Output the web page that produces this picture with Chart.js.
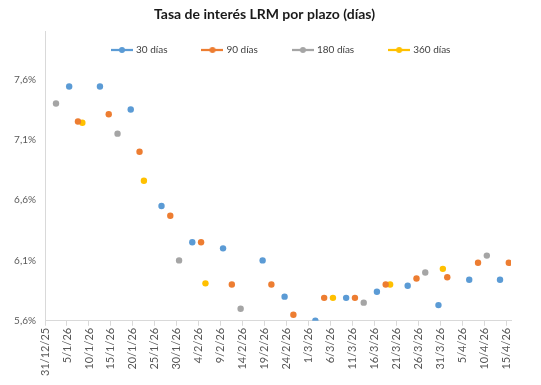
<!DOCTYPE html>
<html>
<head>
<meta charset="utf-8">
<script src="https://cdn.jsdelivr.net/npm/chart.js@4.4.1/dist/chart.umd.min.js"></script>
<style>
  html, body { margin: 0; padding: 0; background: #fff; }
  #wrap { width: 541px; height: 385px; }
</style>
</head>
<body>
<div id="wrap"><canvas id="myChart" width="541" height="385"></canvas></div>
<script>
// fechas de cada subasta y tasa (%)
const fechas30 = ['5/1/26','12/1/26','19/1/26','26/1/26','2/2/26','9/2/26','18/2/26','23/2/26','2/3/26','9/3/26','16/3/26','23/3/26','30/3/26','6/4/26','13/4/26'];
const tasa30 = [7.54, 7.54, 7.35, 6.55, 6.25, 6.20, 6.10, 5.80, 5.60, 5.79, 5.84, 5.89, 5.73, 5.94, 5.94];

const fechas90 = ['7/1/26','14/1/26','21/1/26','28/1/26','4/2/26','11/2/26','20/2/26','25/2/26','4/3/26','11/3/26','18/3/26','25/3/26','1/4/26','8/4/26','15/4/26'];
const tasa90 = [7.25, 7.31, 7.00, 6.47, 6.25, 5.90, 5.90, 5.65, 5.79, 5.79, 5.90, 5.95, 5.96, 6.08, 6.08];

const fechas180 = ['2/1/26','16/1/26','30/1/26','13/2/26','13/3/26','27/3/26','10/4/26'];
const tasa180 = [7.40, 7.15, 6.10, 5.70, 5.75, 6.00, 6.14];

const fechas360 = ['8/1/26','22/1/26','5/2/26','6/3/26','19/3/26','31/3/26'];
const tasa360 = [7.24, 6.76, 5.91, 5.79, 5.90, 6.03];

const xTickLabels = ['31/12/25','5/1/26','10/1/26','15/1/26','20/1/26','25/1/26','30/1/26','4/2/26','9/2/26','14/2/26','19/2/26','24/2/26','1/3/26','6/3/26','11/3/26','16/3/26','21/3/26','26/3/26','31/3/26','5/4/26','10/4/26','15/4/26'];
const yTicks = [5.6, 6.1, 6.6, 7.1, 7.6];

const series = ['30 días', '90 días', '180 días', '360 días'];
const colores = ['#5B9BD5', '#ED7D31', '#A5A5A5', '#FFC000'];

// dias desde 31/12/25
function dia(txt) {
  const p = txt.split('/');
  const d = Date.UTC(2000 + parseInt(p[2]), parseInt(p[1]) - 1, parseInt(p[0]));
  return Math.round((d - Date.UTC(2025, 11, 31)) / 86400000);
}

// eje de fechas tipo Excel: el punto queda en medio del dia
function puntos(fechas, tasas) {
  return fechas.map((f, i) => ({ x: dia(f) + 0.5, y: tasas[i] }));
}

function marcador(color) {
  const c = document.createElement('canvas');
  c.width = 22;
  c.height = 8;
  const ctx = c.getContext('2d');
  ctx.strokeStyle = color;
  ctx.lineWidth = 2.25;
  ctx.beginPath();
  ctx.moveTo(0, 4);
  ctx.lineTo(22, 4);
  ctx.stroke();
  ctx.fillStyle = color;
  ctx.beginPath();
  ctx.arc(11, 4, 3, 0, Math.PI * 2);
  ctx.fill();
  return c;
}

// la leyenda de Excel va encima del area del grafico
const leyendaEncima = {
  id: 'leyendaEncima',
  beforeLayout(chart) {
    const lg = chart.legend;
    if (lg && !lg._parcheado) {
      const fit = lg.fit;
      lg.fit = function () {
        fit.call(this);
        this._altoReal = this.height;
        this.height = 0;
      };
      lg._parcheado = true;
    }
  },
  afterLayout(chart) {
    const lg = chart.legend;
    const pad = lg.options.labels.padding;
    const size = lg.options.labels.font.size;
    lg.top = 50 - size / 2 - pad;
    lg.height = lg._altoReal;
    lg.bottom = lg.top + lg._altoReal;
    // primer item en x = 113
    const d = (226 - lg.left - lg.right - pad + lg.lineWidths[0]) / 2;
    lg.left += d;
    lg.right += d;
    // titulo centrado un poco a la derecha, como en Excel
    chart.titleBlock.left += 3;
    chart.titleBlock.right += 3;
  }
};

Chart.defaults.font.family = 'Lato';
Chart.defaults.color = '#595959';

const datos = [puntos(fechas30, tasa30), puntos(fechas90, tasa90), puntos(fechas180, tasa180), puntos(fechas360, tasa360)];

const graphic = document.getElementById('myChart').getContext('2d');
const myChart = new Chart(graphic, {
  type: 'scatter',
  data: {
    datasets: series.map((s, i) => ({
      label: s,
      data: datos[i],
      backgroundColor: colores[i],
      borderColor: colores[i],
      pointRadius: 3.2,
      pointBorderWidth: 0,
      pointHoverRadius: 3.2
    }))
  },
  plugins: [leyendaEncima],
  options: {
    responsive: false,
    animation: false,
    events: [],
    layout: { padding: { left: 12, right: 30, top: 0, bottom: 7 } },
    plugins: {
      title: {
        display: true,
        text: 'Tasa de interés LRM por plazo (días)',
        color: '#1a1a1a',
        font: { size: 14, weight: 'bold' },
        padding: { top: 6, bottom: 8.2 }
      },
      legend: {
        position: 'top',
        labels: {
          usePointStyle: true,
          pointStyleWidth: 18,
          padding: 36,
          color: '#404040',
          font: { size: 10 },
          generateLabels(chart) {
            return chart.data.datasets.map((ds, i) => ({
              text: ds.label,
              pointStyle: marcador(colores[i]),
              fillStyle: colores[i],
              strokeStyle: colores[i],
              lineWidth: 0,
              fontColor: '#404040',
              datasetIndex: i,
              hidden: false
            }));
          }
        }
      },
      tooltip: { enabled: false }
    },
    scales: {
      x: {
        type: 'linear',
        min: 0,
        max: 106,
        afterBuildTicks(axis) {
          axis.ticks = xTickLabels.map((t) => ({ value: dia(t) }));
        },
        grid: { drawOnChartArea: false, drawTicks: true, tickLength: 5, color: '#d9d9d9' },
        border: { color: '#d9d9d9' },
        ticks: {
          autoSkip: false,
          maxRotation: 90,
          minRotation: 90,
          padding: 2,
          font: { size: 11 },
          callback(value, index) {
            return xTickLabels[index];
          }
        }
      },
      y: {
        min: 5.6,
        max: 8.0,
        afterBuildTicks(axis) {
          axis.ticks = yTicks.map((v) => ({ value: v }));
        },
        afterFit(scale) {
          scale.width = 33;
        },
        grid: { drawOnChartArea: false, drawTicks: false, color: '#d9d9d9' },
        border: { color: '#d9d9d9' },
        ticks: {
          padding: 9,
          font: { size: 10 },
          callback(value) {
            return value.toFixed(1).replace('.', ',') + '%';
          }
        }
      }
    }
  }
});
</script>
</body>
</html>
